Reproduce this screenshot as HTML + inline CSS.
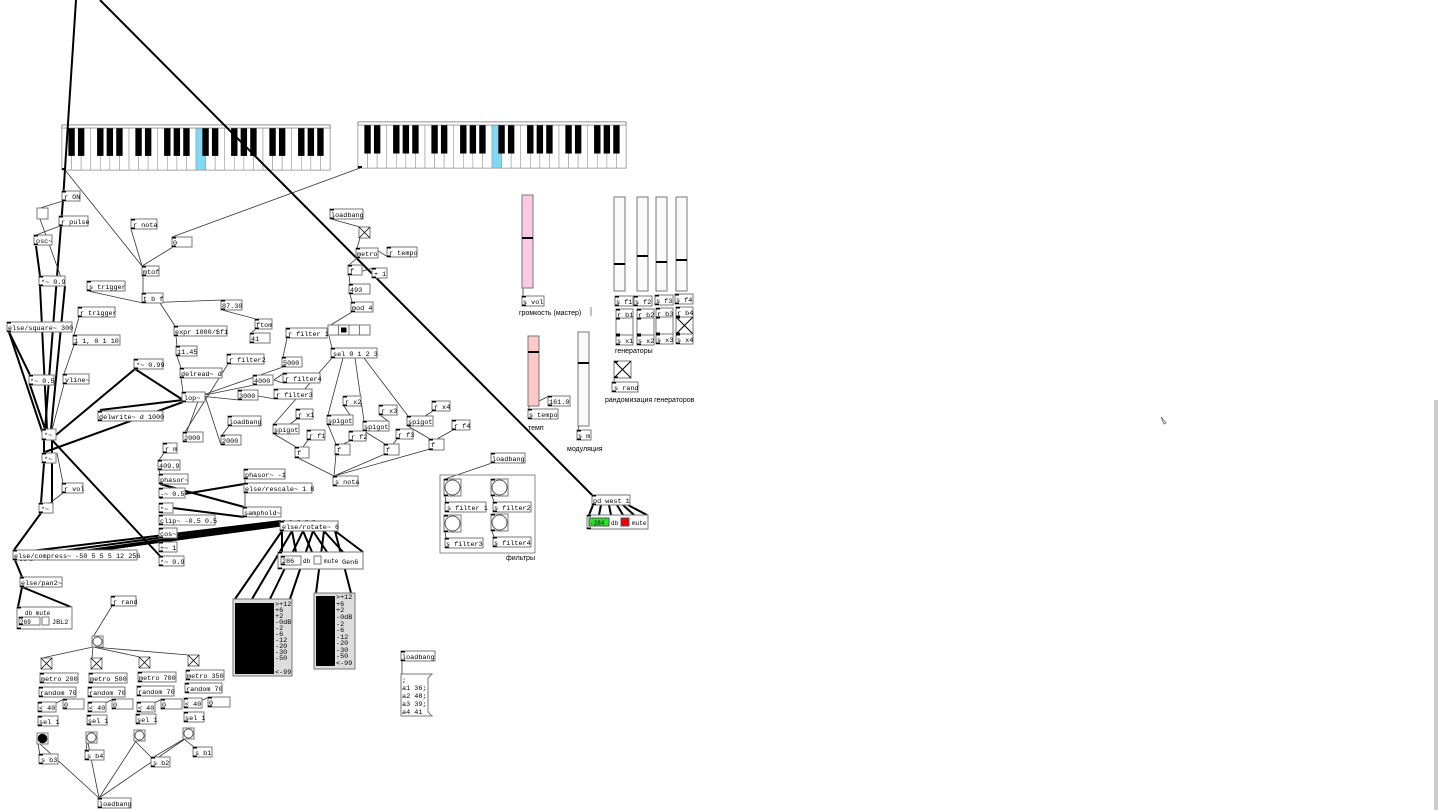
<!DOCTYPE html>
<html><head><meta charset="utf-8"><style>
html,body{margin:0;padding:0;background:#fff;width:1440px;height:810px;overflow:hidden}
svg{display:block}
text{font-family:"Liberation Mono","DejaVu Sans Mono",monospace;font-size:6.8px;fill:#000}
.l{font-family:"Liberation Sans","DejaVu Sans",sans-serif;font-size:7px}
rect.b{fill:#fff;stroke:#777;stroke-width:1}
.t{stroke:#333;stroke-width:.8;fill:none}
.k{stroke:#000;stroke-width:2;fill:none}
</style></head><body>
<svg id="s" width="1440" height="810" viewBox="0 0 1440 810">
<!-- scrollbar -->
<rect x="1434" y="400" width="4" height="410" fill="#ccc"/>
<g id="kb"></g>
<!-- thick lines -->
<line class="k" x1="100" y1="0" x2="593" y2="496"/>
<line class="k" x1="76" y1="0" x2="63" y2="200"/>
<line class="k" x1="63" y1="200" x2="45" y2="430"/>
<line class="k" x1="36" y1="246" x2="40" y2="276"/>
<line class="k" x1="40" y1="286" x2="47" y2="429"/>
<line class="k" x1="9" y1="332" x2="30" y2="375"/>
<line class="k" x1="30" y1="385" x2="45" y2="429"/>
<line class="k" x1="9" y1="332" x2="45" y2="440"/>
<line class="k" x1="65" y1="286" x2="50" y2="440"/>
<line class="k" x1="183" y1="402" x2="45" y2="452"/>
<line class="k" x1="50" y1="440" x2="135" y2="369"/>
<line class="k" x1="135" y1="369" x2="183" y2="400"/>
<line class="k" x1="100" y1="410" x2="183" y2="400"/>
<line class="k" x1="52" y1="440" x2="160" y2="556"/>
<line class="k" x1="44" y1="440" x2="44" y2="453"/>
<line class="k" x1="44" y1="463" x2="41" y2="503"/>
<line class="k" x1="52" y1="440" x2="52" y2="503"/>
<line class="k" x1="41" y1="513" x2="14" y2="550"/>
<line class="k" x1="160" y1="484" x2="244" y2="507"/>
<line class="k" x1="160" y1="498" x2="244" y2="484"/>
<line class="k" x1="165" y1="507" x2="244" y2="517"/>
<g class="k" stroke-width="2.2">
<line x1="281" y1="521" x2="14" y2="553"/><line x1="285" y1="521" x2="16" y2="557"/><line x1="292" y1="521" x2="20" y2="560"/><line x1="300" y1="521" x2="24" y2="560"/><line x1="308" y1="521" x2="30" y2="560"/><line x1="315" y1="521" x2="40" y2="558"/>
</g>
<line class="k" x1="15" y1="560" x2="22" y2="577"/>
<line class="k" x1="22" y1="587" x2="18" y2="607"/>
<line class="k" x1="22" y1="587" x2="71" y2="607"/>
<g class="k">
<line x1="282" y1="531" x2="235" y2="599"/><line x1="292" y1="531" x2="252" y2="599"/><line x1="303" y1="531" x2="270" y2="599"/><line x1="313" y1="531" x2="290" y2="599"/><line x1="324" y1="531" x2="316" y2="593"/><line x1="335" y1="531" x2="351" y2="593"/>
<line x1="282" y1="531" x2="282" y2="552"/><line x1="292" y1="531" x2="296" y2="552"/><line x1="303" y1="531" x2="312" y2="552"/><line x1="313" y1="531" x2="327" y2="552"/><line x1="324" y1="531" x2="343" y2="552"/><line x1="335" y1="531" x2="363" y2="552"/>
<line x1="593" y1="505" x2="589" y2="515"/><line x1="601" y1="505" x2="599" y2="515"/><line x1="609" y1="505" x2="611" y2="515"/><line x1="617" y1="505" x2="623" y2="515"/><line x1="623" y1="505" x2="634" y2="515"/><line x1="628" y1="505" x2="647" y2="515"/>
</g>
<!-- thin lines -->
<g class="t">
<line x1="65" y1="170" x2="142" y2="266"/><line x1="360" y1="168" x2="172" y2="237"/>
<line x1="63" y1="201" x2="40" y2="208"/><line x1="40" y1="219" x2="62" y2="280"/><line x1="60" y1="226" x2="36" y2="235"/>
<line x1="131" y1="229" x2="142" y2="266"/><line x1="173" y1="247" x2="142" y2="266"/><line x1="143" y1="276" x2="143" y2="293"/>
<line x1="88" y1="291" x2="143" y2="303"/><line x1="143" y1="303" x2="222" y2="300"/><line x1="160" y1="303" x2="175" y2="326"/>
<line x1="222" y1="310" x2="256" y2="319"/><line x1="256" y1="329" x2="251" y2="333"/>
<line x1="176" y1="336" x2="177" y2="346"/><line x1="177" y1="356" x2="181" y2="368"/><line x1="181" y1="378" x2="183" y2="392"/>
<line x1="79" y1="317" x2="74" y2="335"/><line x1="74" y1="345" x2="64" y2="374"/><line x1="64" y1="384" x2="52" y2="430"/>
<line x1="228" y1="364" x2="185" y2="432"/><line x1="200" y1="396" x2="183" y2="442"/><line x1="205" y1="396" x2="221" y2="445"/>
<line x1="229" y1="426" x2="222" y2="435"/><line x1="283" y1="367" x2="200" y2="396"/><line x1="254" y1="385" x2="200" y2="396"/><line x1="239" y1="400" x2="200" y2="396"/>
<line x1="287" y1="338" x2="283" y2="357"/><line x1="283" y1="383" x2="274" y2="380"/><line x1="284" y1="373" x2="274" y2="380"/><line x1="275" y1="399" x2="258" y2="396"/>
<line x1="331" y1="219" x2="360" y2="227"/><line x1="360" y1="238" x2="357" y2="248"/><line x1="388" y1="257" x2="375" y2="249"/>
<line x1="357" y1="258" x2="349" y2="265"/><line x1="349" y1="275" x2="373" y2="268"/><line x1="349" y1="275" x2="350" y2="284"/><line x1="350" y1="294" x2="352" y2="302"/><line x1="352" y1="312" x2="329" y2="326"/><line x1="329" y1="336" x2="332" y2="348"/>
<line x1="332" y1="358" x2="274" y2="424"/><line x1="343" y1="358" x2="328" y2="415"/><line x1="355" y1="358" x2="364" y2="421"/><line x1="364" y1="358" x2="408" y2="416"/>
<line x1="297" y1="419" x2="290" y2="424"/><line x1="344" y1="406" x2="350" y2="415"/><line x1="380" y1="415" x2="388" y2="421"/><line x1="433" y1="411" x2="425" y2="416"/>
<line x1="274" y1="434" x2="296" y2="447"/><line x1="308" y1="440" x2="303" y2="447"/><line x1="328" y1="425" x2="336" y2="444"/><line x1="350" y1="441" x2="343" y2="444"/>
<line x1="364" y1="431" x2="385" y2="444"/><line x1="397" y1="439" x2="393" y2="444"/><line x1="408" y1="426" x2="430" y2="439"/><line x1="453" y1="430" x2="437" y2="439"/>
<line x1="296" y1="457" x2="334" y2="476"/><line x1="336" y1="454" x2="334" y2="476"/><line x1="385" y1="454" x2="334" y2="476"/><line x1="430" y1="449" x2="334" y2="476"/>
<line x1="164" y1="453" x2="159" y2="460"/><line x1="159" y1="470" x2="160" y2="474"/><line x1="245" y1="479" x2="245" y2="483"/><line x1="245" y1="493" x2="245" y2="507"/>
<line x1="63" y1="493" x2="50" y2="503"/><line x1="57" y1="453" x2="63" y2="483"/>
<line x1="492" y1="463" x2="445" y2="479"/><line x1="445" y1="496" x2="446" y2="502"/><line x1="492" y1="496" x2="494" y2="502"/><line x1="445" y1="532" x2="446" y2="538"/><line x1="492" y1="531" x2="494" y2="537"/>
<line x1="523" y1="288" x2="523" y2="296"/><line x1="529" y1="406" x2="549" y2="396"/><line x1="529" y1="406" x2="529" y2="409"/><line x1="579" y1="426" x2="578" y2="430"/>
<line x1="615" y1="361" x2="614" y2="383"/>
<line x1="112" y1="606" x2="93" y2="637"/>
<line x1="93" y1="647" x2="42" y2="658"/><line x1="93" y1="647" x2="92" y2="658"/><line x1="93" y1="647" x2="140" y2="657"/><line x1="93" y1="647" x2="189" y2="655"/>
<line x1="39" y1="712" x2="64" y2="699"/><line x1="89" y1="712" x2="113" y2="699"/><line x1="138" y1="712" x2="162" y2="699"/><line x1="185" y1="708" x2="209" y2="697"/>
<line x1="38" y1="744" x2="40" y2="755"/><line x1="87" y1="743" x2="86" y2="751"/><line x1="135" y1="741" x2="152" y2="758"/><line x1="184" y1="739" x2="194" y2="747"/><line x1="184" y1="739" x2="152" y2="758"/>
<line x1="99" y1="798" x2="40" y2="744"/><line x1="99" y1="798" x2="88" y2="743"/><line x1="99" y1="798" x2="136" y2="741"/><line x1="99" y1="798" x2="185" y2="739"/>
<line x1="402" y1="661" x2="402" y2="674"/>
</g>
<g id="objs">
<!-- left column -->
<rect class="b" x="62" y="191" width="18" height="10"/><text x="64" y="199">r ON</text>
<rect class="b" x="37" y="208" width="11" height="11"/>
<rect class="b" x="59" y="216" width="29" height="10"/><text x="61" y="224">r pulse</text>
<rect class="b" x="34" y="235" width="18" height="10"/><text x="36" y="243">osc~</text>
<rect class="b" x="39" y="276" width="26" height="10"/><text x="41" y="284">*~ 0.9</text>
<rect class="b" x="87" y="281" width="38" height="10"/><text x="89" y="289">s trigger</text>
<rect class="b" x="131" y="219" width="26" height="10"/><text x="133" y="227">r nota</text>
<rect class="b" x="172" y="237" width="20" height="10"/><text x="173" y="245">0</text>
<rect class="b" x="142" y="266" width="17" height="10"/><text x="143" y="274">mtof</text>
<rect class="b" x="142" y="293" width="21" height="10"/><text x="143" y="301">t b f</text>
<rect class="b" x="221" y="300" width="21" height="10"/><text x="222" y="308">87.30</text>
<rect class="b" x="255" y="319" width="17" height="10"/><text x="256" y="327">ftom</text>
<rect class="b" x="250" y="333" width="20" height="10"/><text x="251" y="341">41</text>
<rect class="b" x="78" y="307" width="37" height="10"/><text x="80" y="315">r trigger</text>
<rect class="b" x="7" y="322" width="65" height="10"/><text x="8" y="330">else/square~ 300</text>
<rect class="b" x="73" y="335" width="47" height="10"/><text x="74" y="343">1 1, 0 1 10</text>
<rect class="b" x="174" y="326" width="53" height="10"/><text x="175" y="334">expr 1000/$f1</text>
<rect class="b" x="176" y="346" width="21" height="10"/><text x="177" y="354">11.45</text>
<rect class="b" x="180" y="368" width="42" height="10"/><text x="181" y="376">delread~ d</text>
<rect class="b" x="227" y="354" width="37" height="10"/><text x="229" y="362">r filter2</text>
<rect class="b" x="134" y="359" width="29" height="10"/><text x="136" y="367">*~ 0.99</text>
<rect class="b" x="29" y="375" width="25" height="10"/><text x="30" y="383">*~ 0.5</text>
<rect class="b" x="63" y="374" width="26" height="10"/><text x="65" y="382">vline~</text>
<rect class="b" x="182" y="392" width="23" height="10"/><text x="184" y="400">lop~</text>
<rect class="b" x="98" y="411" width="65" height="10"/><text x="99" y="419">delwrite~ d 1000</text>
<rect class="b" x="42" y="429" width="14" height="11"/><text x="44" y="437">*~</text>
<rect class="b" x="42" y="453" width="14" height="10"/><text x="44" y="461">*~</text>
<rect class="b" x="62" y="483" width="21" height="10"/><text x="64" y="491">r vol</text>
<rect class="b" x="39" y="503" width="14" height="10"/><text x="41" y="511">*~</text>
<rect class="b" x="183" y="432" width="20" height="10"/><text x="184" y="440">2000</text>
<rect class="b" x="228" y="416" width="33" height="10"/><text x="229" y="424">loadbang</text>
<rect class="b" x="221" y="435" width="20" height="10"/><text x="222" y="443">2000</text>
<rect class="b" x="282" y="357" width="20" height="10"/><text x="283" y="365">5000</text>
<rect class="b" x="253" y="375" width="20" height="10"/><text x="254" y="383">4000</text>
<rect class="b" x="238" y="390" width="20" height="10"/><text x="239" y="398">3000</text>
<rect class="b" x="286" y="328" width="41" height="10"/><text x="288" y="336">r filter 1</text>
<rect class="b" x="283" y="373" width="37" height="10"/><text x="285" y="381">r filter4</text>
<rect class="b" x="274" y="389" width="38" height="10"/><text x="276" y="397">r filter3</text>
<!-- hradio -->
<rect class="b" x="328" y="325" width="10.5" height="10"/><rect class="b" x="338.5" y="325" width="10.5" height="10"/><rect class="b" x="349" y="325" width="10.5" height="10"/><rect class="b" x="359.5" y="325" width="10.5" height="10"/>
<rect x="341" y="327.5" width="5.5" height="5" fill="#000"/>
<rect class="b" x="331" y="348" width="46" height="10"/><text x="333" y="356">sel 0 1 2 3</text>
<rect class="b" x="330" y="209" width="33" height="10"/><text x="331" y="217">loadbang</text>
<rect class="b" x="359" y="227" width="11" height="11"/><path d="M359 227L370 238M370 227L359 238" stroke="#000" stroke-width=".8"/>
<rect class="b" x="356" y="248" width="22" height="10"/><text x="357" y="256">metro</text>
<rect class="b" x="387" y="247" width="30" height="10"/><text x="389" y="255">r tempo</text>
<rect class="b" x="348" y="265" width="14" height="10"/><text x="350" y="273">f</text>
<rect class="b" x="372" y="268" width="15" height="10"/><text x="374" y="276">+ 1</text>
<rect class="b" x="349" y="284" width="21" height="10"/><text x="350" y="292">493</text>
<rect class="b" x="351" y="302" width="22" height="10"/><text x="352" y="310">mod 4</text>
<rect class="b" x="296" y="409" width="17" height="10"/><text x="298" y="417">r x1</text>
<rect class="b" x="273" y="424" width="26" height="10"/><text x="274" y="432">spigot</text>
<rect class="b" x="307" y="430" width="18" height="10"/><text x="309" y="438">r f1</text>
<rect class="b" x="295" y="447" width="14" height="11"/><text x="297" y="455">f</text>
<rect class="b" x="343" y="396" width="18" height="10"/><text x="345" y="404">r x2</text>
<rect class="b" x="327" y="415" width="26" height="10"/><text x="328" y="423">spigot</text>
<rect class="b" x="349" y="431" width="17" height="10"/><text x="351" y="439">r f2</text>
<rect class="b" x="335" y="444" width="15" height="11"/><text x="337" y="452">f</text>
<rect class="b" x="379" y="405" width="18" height="10"/><text x="381" y="413">r x3</text>
<rect class="b" x="363" y="421" width="26" height="10"/><text x="364" y="429">spigot</text>
<rect class="b" x="396" y="429" width="17" height="10"/><text x="398" y="437">r f3</text>
<rect class="b" x="384" y="444" width="15" height="11"/><text x="386" y="452">f</text>
<rect class="b" x="432" y="401" width="18" height="10"/><text x="434" y="409">r x4</text>
<rect class="b" x="407" y="416" width="26" height="10"/><text x="408" y="424">spigot</text>
<rect class="b" x="452" y="420" width="18" height="10"/><text x="454" y="428">r f4</text>
<rect class="b" x="429" y="439" width="15" height="11"/><text x="431" y="447">f</text>
<rect class="b" x="333" y="476" width="25" height="10"/><text x="335" y="484">s nota</text>
<rect class="b" x="163" y="443" width="14" height="10"/><text x="165" y="451">r m</text>
<rect class="b" x="158" y="460" width="22" height="10"/><text x="159" y="468">409.9</text>
<rect class="b" x="159" y="474" width="29" height="10"/><text x="160" y="482">phasor~</text>
<rect class="b" x="159" y="488" width="26" height="10"/><text x="160" y="496">-~ 0.5</text>
<rect class="b" x="159" y="503" width="14" height="10"/><text x="160" y="511">*~</text>
<rect class="b" x="159" y="515" width="56" height="10"/><text x="160" y="523">clip~ -0.5 0.5</text>
<rect class="b" x="159" y="528" width="18" height="10"/><text x="160" y="536">cos~</text>
<rect class="b" x="159" y="542" width="18" height="10"/><text x="160" y="550">+~ 1</text>
<rect class="b" x="159" y="556" width="25" height="10"/><text x="160" y="564">*~ 0.9</text>
<rect class="b" x="244" y="469" width="41" height="10"/><text x="245" y="477">phasor~ -1</text>
<rect class="b" x="244" y="483" width="68" height="10"/><text x="245" y="491">else/rescale~ 1 8</text>
<rect class="b" x="243" y="507" width="38" height="10"/><text x="244" y="515">samphold~</text>
<rect class="b" x="280" y="521" width="58" height="10"/><text x="282" y="529">else/rotate~ 6</text>
<rect class="b" x="13" y="550" width="124" height="10"/><text x="14" y="558">else/compress~ -50 5 5 5 12 256</text>
<rect class="b" x="20" y="577" width="42" height="10"/><text x="21" y="585">else/pan2~</text>
<!-- JBL2 -->
<rect class="b" x="17" y="607" width="55" height="22"/><text x="25" y="615" style="font-size:6px">db  mute</text>
<rect class="b" x="19" y="617" width="21" height="8"/><text x="20" y="624" style="font-size:6px">269</text>
<rect class="b" x="42" y="617" width="7" height="8"/><text x="52" y="624">JBL2</text>
<!-- Gen6 -->
<rect class="b" x="278" y="552" width="85" height="17"/>
<rect class="b" x="281" y="556" width="20" height="9"/><text x="282" y="563">286</text><text x="303" y="563" style="font-size:6px">db</text>
<rect class="b" x="314" y="556" width="7" height="8"/><text x="324" y="563" style="font-size:6px">mute</text><text x="342" y="564">Gen6</text>
<!-- meters -->
<rect x="233" y="599" width="59" height="77" fill="#ddd" stroke="#777"/><rect x="235" y="603" width="39" height="71" fill="#000"/>
<g style="font-size:5.8px"><text x="275" y="606">&gt;+12</text><text x="275" y="612">+6</text><text x="275" y="618">+2</text><text x="275" y="624">-0dB</text><text x="275" y="630">-2</text><text x="275" y="636">-6</text><text x="275" y="642">-12</text><text x="275" y="648">-20</text><text x="275" y="654">-30</text><text x="275" y="660">-50</text><text x="275" y="674">&lt;-99</text><text x="275" y="666"></text></g>
<rect x="314" y="593" width="41" height="76" fill="#ddd" stroke="#777"/><rect x="316" y="596" width="19" height="70" fill="#000"/>
<g style="font-size:5.8px"><text x="336" y="599">&gt;+12</text><text x="336" y="606">+6</text><text x="336" y="612">+2</text><text x="336" y="619">-0dB</text><text x="336" y="626">-2</text><text x="336" y="632">-6</text><text x="336" y="639">-12</text><text x="336" y="645">-20</text><text x="336" y="652">-30</text><text x="336" y="658">-50</text><text x="336" y="665">&lt;-99</text></g>
<!-- rand section -->
<rect class="b" x="111" y="596" width="25" height="10"/><text x="113" y="604">r rand</text>
<rect class="b" x="92" y="636" width="11" height="11"/><circle cx="97.5" cy="641.5" r="4.6" fill="#fff" stroke="#555"/>
<g id="tg"></g>
<rect class="b" x="40" y="673" width="38" height="10"/><text x="41" y="681">metro 200</text>
<rect class="b" x="89" y="673" width="38" height="10"/><text x="90" y="681">metro 500</text>
<rect class="b" x="138" y="672" width="38" height="10"/><text x="139" y="680">metro 700</text>
<rect class="b" x="186" y="670" width="38" height="10"/><text x="187" y="678">metro 350</text>
<rect class="b" x="39" y="687" width="37" height="10"/><text x="40" y="695">random 70</text>
<rect class="b" x="88" y="687" width="37" height="10"/><text x="89" y="695">random 70</text>
<rect class="b" x="137" y="686" width="37" height="10"/><text x="138" y="694">random 70</text>
<rect class="b" x="185" y="683" width="37" height="10"/><text x="186" y="691">random 70</text>
<rect class="b" x="38" y="702" width="18" height="10"/><text x="39" y="710">&lt; 40</text><rect class="b" x="63" y="699" width="21" height="10"/><text x="64" y="707">0</text>
<rect class="b" x="88" y="702" width="18" height="10"/><text x="89" y="710">&lt; 40</text><rect class="b" x="112" y="699" width="21" height="10"/><text x="113" y="707">0</text>
<rect class="b" x="137" y="702" width="18" height="10"/><text x="138" y="710">&lt; 40</text><rect class="b" x="161" y="699" width="21" height="10"/><text x="162" y="707">0</text>
<rect class="b" x="184" y="698" width="18" height="10"/><text x="185" y="706">&lt; 40</text><rect class="b" x="208" y="697" width="22" height="10"/><text x="209" y="705">0</text>
<rect class="b" x="38" y="716" width="20" height="10"/><text x="39" y="724">sel 1</text>
<rect class="b" x="87" y="715" width="20" height="10"/><text x="88" y="723">sel 1</text>
<rect class="b" x="136" y="714" width="20" height="10"/><text x="137" y="722">sel 1</text>
<rect class="b" x="184" y="712" width="20" height="10"/><text x="185" y="720">sel 1</text>
<rect class="b" x="37" y="733" width="11" height="11"/><circle cx="42.5" cy="738.5" r="4.8" fill="#000"/>
<rect class="b" x="86" y="732" width="11" height="11"/><circle cx="91.5" cy="737.5" r="4.6" fill="#fff" stroke="#555"/>
<rect class="b" x="134" y="730" width="11" height="11"/><circle cx="139.5" cy="735.5" r="4.6" fill="#fff" stroke="#555"/>
<rect class="b" x="183" y="728" width="11" height="11"/><circle cx="188.5" cy="733.5" r="4.6" fill="#fff" stroke="#555"/>
<rect class="b" x="39" y="754" width="19" height="10"/><text x="41" y="762">s b3</text>
<rect class="b" x="85" y="750" width="19" height="10"/><text x="87" y="758">s b4</text>
<rect class="b" x="151" y="757" width="19" height="10"/><text x="153" y="765">s b2</text>
<rect class="b" x="193" y="747" width="19" height="10"/><text x="195" y="755">s b1</text>
<rect class="b" x="98" y="798" width="33" height="10"/><text x="99" y="806">loadbang</text>
<rect class="b" x="401" y="651" width="34" height="10"/><text x="402" y="659">loadbang</text>
<path d="M401 674H432L428 678V712L432 716H401Z" fill="#fff" stroke="#777"/>
<text x="402" y="682">;</text><text x="402" y="690">a1 36;</text><text x="402" y="698">a2 48;</text><text x="402" y="706">a3 39;</text><text x="402" y="714">a4 41</text>
<!-- right sliders -->
<rect x="522" y="195" width="11" height="93" fill="#fcc8e4" stroke="#777"/><rect x="522" y="237" width="11" height="2" fill="#000"/>
<rect class="b" x="522" y="296" width="22" height="10"/><text x="523" y="304">s vol</text>
<text class="l" x="519" y="315">громкость (мастер)</text><line x1="591" y1="307" x2="591" y2="316" stroke="#888"/>
<rect x="528" y="336" width="11" height="70" fill="#fcc8c8" stroke="#777"/><rect x="528" y="351" width="11" height="2" fill="#000"/>
<rect class="b" x="548" y="396" width="22" height="10"/><text x="549" y="404">161.0</text>
<rect class="b" x="528" y="409" width="30" height="10"/><text x="529" y="417">s tempo</text>
<text class="l" x="528" y="430">темп</text>
<rect x="578" y="332" width="11" height="94" fill="#fafafa" stroke="#777"/><rect x="578" y="362" width="11" height="2" fill="#000"/>
<rect class="b" x="577" y="430" width="14" height="10"/><text x="578" y="438">s m</text>
<text class="l" x="567" y="451">модуляция</text>
<rect x="614" y="197" width="11" height="94" fill="#fafafa" stroke="#777"/><rect x="614" y="263" width="11" height="2" fill="#000"/>
<rect x="637" y="197" width="11" height="94" fill="#fafafa" stroke="#777"/><rect x="637" y="255" width="11" height="2" fill="#000"/>
<rect x="656" y="197" width="11" height="94" fill="#fafafa" stroke="#777"/><rect x="656" y="261" width="11" height="2" fill="#000"/>
<rect x="676" y="197" width="11" height="94" fill="#fafafa" stroke="#777"/><rect x="676" y="259" width="11" height="2" fill="#000"/>
<rect class="b" x="615" y="296" width="18" height="10"/><text x="616" y="304">s f1</text>
<rect class="b" x="634" y="296" width="18" height="10"/><text x="635" y="304">s f2</text>
<rect class="b" x="655" y="295" width="18" height="10"/><text x="656" y="303">s f3</text>
<rect class="b" x="675" y="294" width="18" height="10"/><text x="676" y="302">s f4</text>
<rect class="b" x="616" y="309" width="17" height="10"/><text x="617" y="317">r b1</text>
<rect class="b" x="637" y="309" width="17" height="10"/><text x="638" y="317">r b2</text>
<rect class="b" x="656" y="308" width="17" height="10"/><text x="657" y="316">r b3</text>
<rect class="b" x="676" y="307" width="17" height="10"/><text x="677" y="315">r b4</text>
<rect class="b" x="616" y="318" width="17" height="17"/><rect class="b" x="637" y="318" width="17" height="17"/><rect class="b" x="656" y="317" width="17" height="17"/><rect class="b" x="676" y="317" width="17" height="17"/>
<path d="M676 317L693 334M693 317L676 334" stroke="#000" stroke-width="1"/>
<rect class="b" x="616" y="335" width="17" height="10"/><text x="617" y="343">s x1</text>
<rect class="b" x="637" y="335" width="17" height="10"/><text x="638" y="343">s x2</text>
<rect class="b" x="656" y="334" width="17" height="10"/><text x="657" y="342">s x3</text>
<rect class="b" x="676" y="334" width="17" height="10"/><text x="677" y="342">s x4</text>
<text class="l" x="615" y="353">генераторы</text>
<rect class="b" x="614" y="361" width="17" height="17"/><path d="M614 361L631 378M631 361L614 378" stroke="#000"/>
<rect class="b" x="612" y="382" width="26" height="10"/><text x="614" y="390">s rand</text>
<text class="l" x="605" y="402">рандомизация генераторов</text>
<!-- filters -->
<rect class="b" x="491" y="453" width="34" height="10"/><text x="492" y="461">loadbang</text>
<rect x="440" y="475" width="95" height="78" fill="none" stroke="#888"/>
<rect class="b" x="444" y="479" width="17" height="17"/><circle cx="452.5" cy="487.5" r="7.5" fill="#fff" stroke="#555"/>
<rect class="b" x="491" y="479" width="17" height="17"/><circle cx="499.5" cy="487.5" r="7.5" fill="#fff" stroke="#555"/>
<rect class="b" x="444" y="515" width="17" height="17"/><circle cx="452.5" cy="523.5" r="7.5" fill="#fff" stroke="#555"/>
<rect class="b" x="491" y="514" width="17" height="17"/><circle cx="499.5" cy="522.5" r="7.5" fill="#fff" stroke="#555"/>
<rect class="b" x="445" y="502" width="41" height="10"/><text x="447" y="510">s filter 1</text>
<rect class="b" x="493" y="502" width="38" height="10"/><text x="494" y="510">s filter2</text>
<rect class="b" x="445" y="538" width="38" height="10"/><text x="446" y="546">s filter3</text>
<rect class="b" x="493" y="537" width="38" height="10"/><text x="494" y="545">s filter4</text>
<text class="l" x="506" y="560">фильтры</text>
<rect class="b" x="592" y="495" width="38" height="10"/><text x="593" y="503">pd west 1</text>
<rect class="b" x="587" y="515" width="61" height="14"/>
<rect x="589" y="518" width="20" height="8" fill="#2de02d" stroke="#555"/><text x="590" y="525" style="font-size:6px">-284</text>
<text x="611" y="525" style="font-size:6px">db</text><rect x="621" y="518" width="8" height="8" fill="#e00" stroke="#555"/><text x="632" y="525" style="font-size:6px">mute</text>
<!-- cursor -->
<path d="M1161 417l5 6 -2 1z" fill="none" stroke="#666" stroke-width=".8"/>
</g>
</svg>
<script>
(function(){
var NS="http://www.w3.org/2000/svg",s=document.getElementById('s');
function el(p,t,a){var e=document.createElementNS(NS,t);for(var k in a)e.setAttribute(k,a[k]);p.appendChild(e);return e;}
function kb(x,y,w,h,nw,blue){
 var g=document.getElementById('kb'),kw=w/nw;
 el(g,'rect',{x:x,y:y,width:w,height:h,fill:'#fff',stroke:'#777'});
 for(var i=0;i<nw;i++){el(g,'rect',{x:x+i*kw,y:y+3,width:kw,height:h-3,fill:i==blue?'#7fd8f4':'#fff',stroke:'#999','stroke-width':.6});}
 var pat=[1,1,0,1,1,1,0];
 for(var i=0;i<nw-1;i++){if(pat[i%7])el(g,'rect',{x:x+(i+1)*kw-3.2,y:y+3,width:6.4,height:h*0.62,fill:'#000'});}
 el(g,'rect',{x:x,y:y,width:w,height:3,fill:'#fff',stroke:'#777','stroke-width':.6});
 el(g,'rect',{x:x,y:y+h-2,width:4,height:2,fill:'#000'});
}
kb(62,125,268,45,28,14);
kb(358,122,268,46,28,14);
var t=document.getElementById('tg');
[[41,658],[91,658],[139,657],[188,655]].forEach(function(p){
 el(t,'rect',{x:p[0],y:p[1],width:11,height:11,fill:'#fff',stroke:'#777'});
 el(t,'path',{d:'M'+p[0]+' '+p[1]+'l11 11M'+(p[0]+11)+' '+p[1]+'l-11 11',stroke:'#000','stroke-width':.8});
});
var o=document.getElementById('objs');
Array.prototype.slice.call(o.querySelectorAll('rect.b')).forEach(function(r){
 var x=+r.getAttribute('x'),y=+r.getAttribute('y'),w=+r.getAttribute('width'),h=+r.getAttribute('height');
 if(w<12)return;
 el(o,'rect',{x:x,y:y,width:4,height:1.5,fill:'#000'});
 el(o,'rect',{x:x,y:y+h-1.5,width:4,height:1.5,fill:'#000'});
});
})();
</script>
</body></html>
